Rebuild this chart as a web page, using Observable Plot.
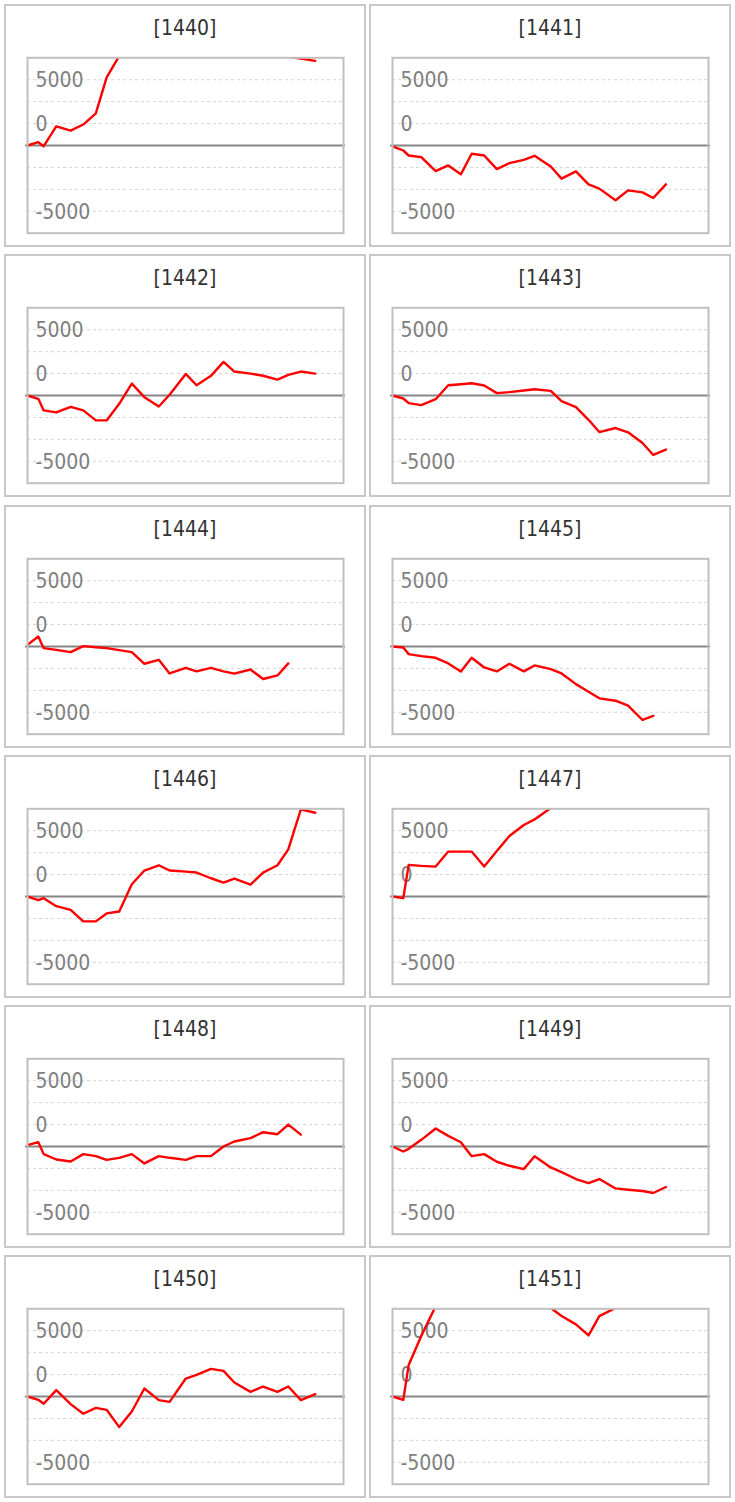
<!DOCTYPE html>
<html><head><meta charset="utf-8">
<script src="https://cdn.jsdelivr.net/npm/d3@7"></script>
<script src="https://cdn.jsdelivr.net/npm/@observablehq/plot@0.6"></script>
<style>
body{margin:0;background:#fff;}
#grid{display:grid;grid-template-columns:362px 362px;column-gap:3px;row-gap:7.3px;padding:4px 0 0 4px;}
.panel{box-sizing:border-box;width:362px;height:243px;border:2px solid #c8c8c8;background:#fff;}
.title{height:40px;line-height:44px;text-align:center;font-family:"DejaVu Sans Condensed","DejaVu Sans",sans-serif;font-stretch:condensed;font-size:21px;color:#333;}
svg{display:block}
</style></head><body><div id="grid"></div><script>
// shared x positions (days from first observation)
const days = [0, 6, 9, 16, 24, 31, 38, 44, 51, 58, 65, 73, 79, 88, 94, 102, 109, 115, 124, 131, 139, 145, 152, 160];
const dayDomain = [0, 175.7];
const yDomain = [-10000, 10000];
const gridValues = [-7500, -5000, -2500, 2500, 5000, 7500];
const tickValues = [7500, 2500, -7500];
const tickLabels = ["5000", "0", "-5000"];
const titles = ["[1440]","[1441]","[1442]","[1443]","[1444]","[1445]","[1446]","[1447]","[1448]","[1449]","[1450]","[1451]"];

const s1440 = [0, 380, -80, 2190, 1700, 2390, 3670, 7760, 10200, 11000, 12000, 12500, 13000, 12500, 13000, 12000, 12500, 11500, 11000, 10700, 10400, 10100, 9900, 9650];
const s1441 = [-100, -570, -1140, -1330, -2920, -2270, -3290, -940, -1140, -2690, -2010, -1630, -1170, -2390, -3780, -2950, -4430, -4920, -6250, -5110, -5340, -5990, -4430];
const s1442 = [0, -380, -1700, -1930, -1290, -1700, -2840, -2840, -950, 1360, -190, -1250, 80, 2460, 1170, 2240, 3830, 2730, 2500, 2250, 1820, 2350, 2730, 2500];
const s1443 = [0, -340, -870, -1100, -420, 1170, 1290, 1400, 1140, 270, 380, 570, 720, 530, -640, -1330, -2770, -4170, -3710, -4200, -5420, -6780, -6170];
const s1444 = [190, 1140, -190, -380, -640, 40, -80, -190, -420, -640, -1970, -1520, -3070, -2430, -2840, -2430, -2840, -3100, -2620, -3710, -3300, -1930];
const s1445 = [0, -110, -870, -1100, -1290, -1930, -2840, -1290, -2390, -2840, -1970, -2840, -2160, -2580, -3070, -4290, -5150, -5910, -6180, -6750, -8380, -7920];
const s1446 = [0, -420, -190, -1100, -1520, -2840, -2840, -1930, -1710, 1400, 2960, 3560, 2960, 2840, 2730, 2080, 1590, 2050, 1360, 2730, 3560, 5380, 9930, 9550];
const s1447 = [0, -190, 3600, 3490, 3410, 5120, 5120, 5120, 3410, 5190, 6900, 8150, 8790, 10100, 11000];
const s1448 = [150, 490, -870, -1480, -1710, -870, -1100, -1520, -1290, -870, -1930, -1100, -1290, -1520, -1100, -1100, 0, 570, 950, 1630, 1400, 2500, 1360];
const s1449 = [0, -570, -265, 760, 2050, 1210, 490, -1100, -870, -1740, -2200, -2580, -1100, -2390, -2920, -3710, -4170, -3710, -4780, -4930, -5080, -5300, -4620];
const s1450 = [0, -380, -830, 720, -870, -1970, -1290, -1520, -3490, -1710, 910, -420, -610, 2050, 2460, 3150, 2920, 1590, 530, 1140, 530, 1140, -420, 270];
const s1451 = [0, -380, 3600, 6900, 10300, 11500, 12500, 13000, 13500, 13000, 12500, 12000, 11000, 10100, 9170, 8220, 6970, 9170, 10100, 10800];

const series = [s1440, s1441, s1442, s1443, s1444, s1445, s1446, s1447, s1448, s1449, s1450, s1451];
const font = '"DejaVu Sans Condensed","DejaVu Sans",sans-serif';

const grid = document.getElementById("grid");
series.forEach((vals, k) => {
  const panel = document.createElement("div");
  panel.className = "panel";
  const t = document.createElement("div");
  t.className = "title";
  t.textContent = titles[k];
  panel.appendChild(t);
  const pts = vals.map((v, i) => ({day: days[i], value: v}));
  const chart = Plot.plot({
    width: 358, height: 199,
    marginTop: 11.3, marginBottom: 12.3, marginLeft: 21, marginRight: 21,
    x: {domain: dayDomain, axis: null},
    y: {domain: yDomain, axis: null},
    style: {background: "transparent", overflow: "visible", fontFamily: font},
    marks: [
      Plot.ruleY(gridValues, {stroke: "#d4d4d4", strokeDasharray: "3,3", strokeWidth: 1}),
      Plot.ruleY([0], {stroke: "#858585", strokeWidth: 2, insetLeft: -2, insetRight: -2}),
      Plot.text(tickValues, {y: d => d, text: (d, i) => tickLabels[i], frameAnchor: "left", dx: 8, dy: 1, textAnchor: "start", fill: "#7f7f7f", fontSize: 21, fontFamily: font}),
      Plot.line(pts, {x: "day", y: "value", stroke: "#ff0000", strokeWidth: 2.4, clip: true}),
      Plot.frame({stroke: "#c0c0c0", strokeWidth: 2})
    ]
  });
  panel.appendChild(chart);
  grid.appendChild(panel);
});
</script></body></html>
